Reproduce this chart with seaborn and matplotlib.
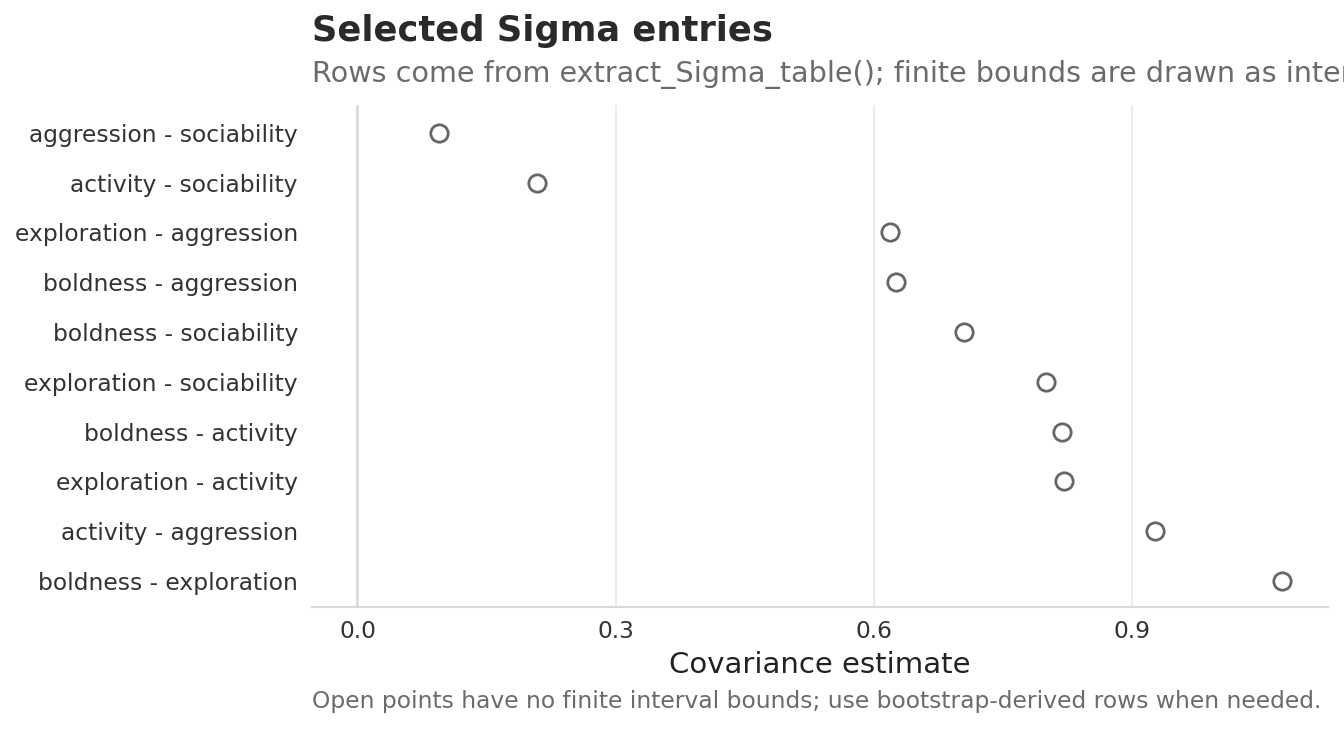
import pandas as pd
import seaborn as sns
import matplotlib.pyplot as plt

# Data (top to bottom)
pairs = ['aggression - sociability', 'activity - sociability',
         'exploration - aggression', 'boldness - aggression',
         'boldness - sociability', 'exploration - sociability',
         'boldness - activity', 'exploration - activity',
         'activity - aggression', 'boldness - exploration']
estimate = [0.095, 0.208, 0.618, 0.626, 0.704, 0.800, 0.818, 0.821, 0.926, 1.074]
xticks = [0.0, 0.3, 0.6, 0.9]
xticklabels = ['0.0', '0.3', '0.6', '0.9']

data = pd.DataFrame({'pair': pairs, 'estimate': estimate})

sns.set_style('white')
plt.rcParams['font.family'] = ['DejaVu Sans']

fig = plt.figure(figsize=(13.44, 7.29), dpi=100)
ax = fig.add_axes([0.232, 0.167, 0.756, 0.689])

ax.axvline(0, color='#dcdcdc', lw=2, zorder=1)
sns.pointplot(data=data, x='estimate', y='pair', order=pairs,
              linestyle='none', marker='o', errorbar=None, color='#666666',
              markersize=12.5, markerfacecolor='white',
              markeredgecolor='#666666', markeredgewidth=2, ax=ax, zorder=3)

ax.set_xlim(-0.053, 1.127)
ax.set_ylim(9.53, -0.56)
ax.set_xticks(xticks)
ax.set_xticklabels(xticklabels)
ax.xaxis.grid(True, color='#ebebeb', lw=1.5)
ax.yaxis.grid(False)
ax.set_axisbelow(True)
for s in ['top', 'right', 'left']:
    ax.spines[s].set_visible(False)
ax.spines['bottom'].set_color('#d9d9d9')
ax.spines['bottom'].set_linewidth(1.5)
ax.tick_params(axis='both', length=0, labelsize=16.8, labelcolor='#333333')
ax.tick_params(axis='x', pad=9)
ax.tick_params(axis='y', pad=10)
ax.set_ylabel('')
ax.set_xlabel('Covariance estimate', fontsize=21, color='#222222', labelpad=6)

fig.text(0.232, 0.944, 'Selected Sigma entries', fontsize=25.4, fontweight='bold',
         color='#2a2a2a', va='baseline')
fig.text(0.232, 0.888, 'Rows come from extract_Sigma_table(); finite bounds are drawn as intervals.',
         fontsize=20.6, color='#6b6b6b', va='baseline')
fig.text(0.232, 0.029, 'Open points have no finite interval bounds; use bootstrap-derived rows when needed.',
         fontsize=16.8, color='#6b6b6b', va='baseline')

fig.savefig('out.png', dpi=100)
